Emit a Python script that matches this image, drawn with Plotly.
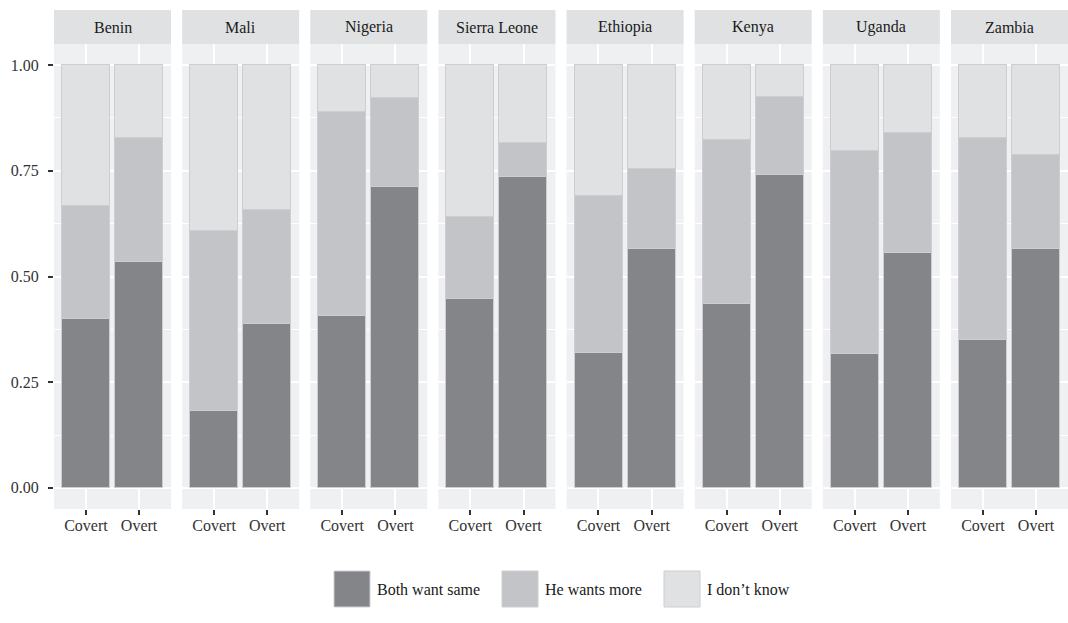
import plotly.graph_objects as go

# Shares of responses by country and survey condition
countries = ["Benin", "Mali", "Nigeria", "Sierra Leone", "Ethiopia", "Kenya", "Uganda", "Zambia"]
conditions = ["Covert", "Overt"]
series_names = ["Both want same", "He wants more", "I don\u2019t know"]

both_covert = [0.400, 0.183, 0.407, 0.447, 0.320, 0.434, 0.317, 0.350]
both_overt = [0.535, 0.388, 0.711, 0.735, 0.564, 0.739, 0.556, 0.564]
more_covert = [0.267, 0.424, 0.482, 0.194, 0.371, 0.390, 0.479, 0.478]
more_overt = [0.293, 0.270, 0.212, 0.082, 0.191, 0.186, 0.284, 0.224]
dk_covert = [0.333, 0.393, 0.111, 0.359, 0.309, 0.176, 0.204, 0.172]
dk_overt = [0.172, 0.342, 0.077, 0.183, 0.245, 0.075, 0.160, 0.212]

y_ticks = [0.0, 0.25, 0.5, 0.75, 1.0]
y_tick_labels = ["0.00", "0.25", "0.50", "0.75", "1.00"]

colors = ["#848589", "#C3C4C7", "#E0E1E3"]
outline = "#CDCED0"
FONT = "Liberation Serif"
FS = 16

W, H = 1068, 623
panel_left = 54
panel_step = (951 - 54) / 7
panel_w = 117
panel_top, panel_bottom = 44, 509
strip_top = 10

series = [
    (both_covert, both_overt),
    (more_covert, more_overt),
    (dk_covert, dk_overt),
]

fig = go.Figure()

for i, country in enumerate(countries):
    sfx = "" if i == 0 else str(i + 1)
    for (cov, ov), name, col in zip(series, series_names, colors):
        fig.add_trace(go.Bar(
            x=conditions,
            y=[cov[i], ov[i]],
            name=name,
            width=0.9,
            marker=dict(color=col, line=dict(color=outline, width=1)),
            xaxis="x" + sfx,
            yaxis="y" + sfx,
            showlegend=False,
        ))

layout = dict(
    width=W, height=H,
    margin=dict(l=0, r=0, t=0, b=0),
    paper_bgcolor="white",
    plot_bgcolor="#EFF0F2",
    barmode="stack",
    bargap=0,
    font=dict(family=FONT, size=FS, color="#1A1A1A"),
    showlegend=False,
)

shapes = []
annotations = []

y_dom = [1 - panel_bottom / H, 1 - panel_top / H]
for i, country in enumerate(countries):
    sfx = "" if i == 0 else str(i + 1)
    x0 = panel_left + i * panel_step
    x1 = x0 + panel_w
    layout["xaxis" + sfx] = dict(
        domain=[x0 / W, x1 / W],
        anchor="y" + sfx,
        type="category",
        categoryorder="array",
        categoryarray=conditions,
        range=[-0.6, 1.6],
        showgrid=True, gridcolor="white", gridwidth=1.6,
        ticks="outside", ticklen=5, tickwidth=1.6, tickcolor="#333333",
        tickfont=dict(family=FONT, size=FS, color="#333333"),
        ticklabelstandoff=-3,
        showline=False, zeroline=False, fixedrange=True,
    )
    layout["yaxis" + sfx] = dict(
        domain=y_dom,
        anchor="x" + sfx,
        range=[-0.05, 1.05],
        tickvals=y_ticks,
        ticktext=y_tick_labels,
        showticklabels=(i == 0),
        ticks="outside" if i == 0 else "",
        ticklen=5, tickwidth=1.6, tickcolor="#333333",
        tickfont=dict(family=FONT, size=FS, color="#333333"),
        ticklabelstandoff=6,
        showgrid=True, gridcolor="white", gridwidth=1.6,
        minor=dict(dtick=0.125, tick0=0, showgrid=True, gridcolor="white", gridwidth=0.8, ticks=""),
        zeroline=False, showline=False, fixedrange=True,
    )
    # facet strip
    shapes.append(dict(
        type="rect", xref="paper", yref="paper",
        x0=x0 / W, x1=x1 / W,
        y0=1 - panel_top / H, y1=1 - strip_top / H,
        fillcolor="#E0E1E3", line=dict(width=0), layer="below",
    ))
    annotations.append(dict(
        text=country, xref="paper", yref="paper",
        x=(x0 + x1) / 2 / W, y=1 - (strip_top + panel_top) / 2 / H,
        showarrow=False, xanchor="center", yanchor="middle",
        font=dict(family=FONT, size=FS, color="#1A1A1A"),
    ))

# legend at the bottom
key_x = [334, 502, 664]
key_size = 36
key_top = 571
for kx, name, col in zip(key_x, series_names, colors):
    shapes.append(dict(
        type="rect", xref="paper", yref="paper",
        x0=kx / W, x1=(kx + key_size) / W,
        y0=1 - (key_top + key_size) / H, y1=1 - key_top / H,
        fillcolor=col, line=dict(color=outline, width=1),
    ))
    annotations.append(dict(
        text=name, xref="paper", yref="paper",
        x=(kx + key_size + 5) / W, y=1 - (key_top + key_size / 2) / H,
        showarrow=False, xanchor="left", yanchor="middle",
        font=dict(family=FONT, size=FS, color="#1A1A1A"),
    ))

layout["shapes"] = shapes
layout["annotations"] = annotations
fig.update_layout(**layout)

fig.write_html("out.html")
